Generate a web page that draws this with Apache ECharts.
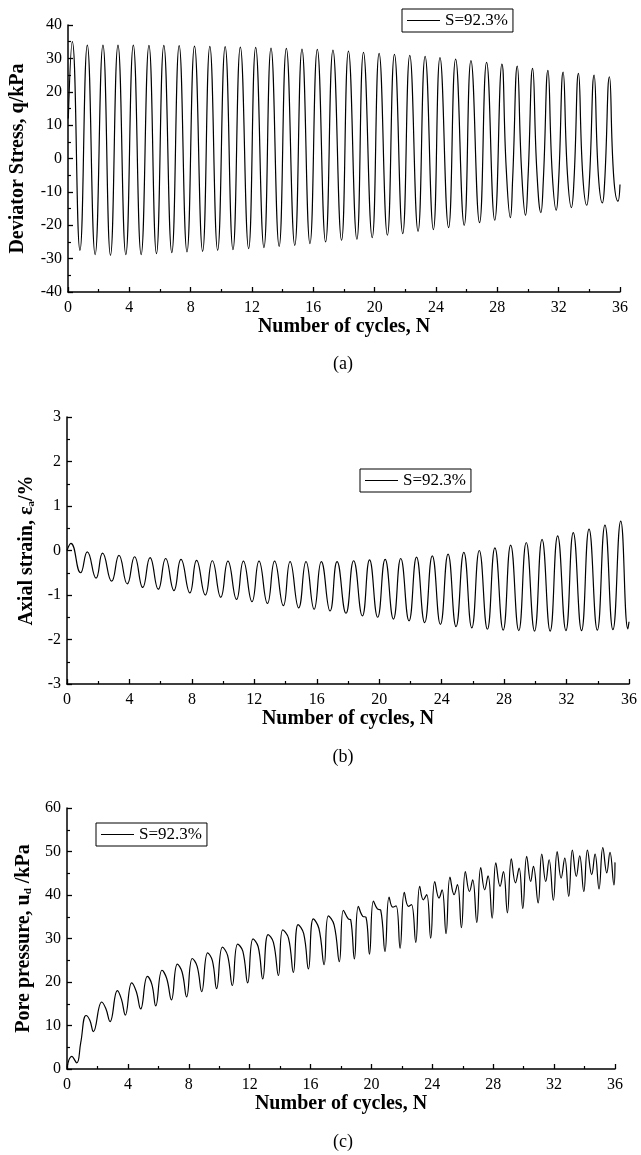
<!DOCTYPE html>
<html><head><meta charset="utf-8">
<script src="https://cdn.jsdelivr.net/npm/echarts@6/dist/echarts.min.js"></script>
<style>html,body{margin:0;padding:0;background:#fff}#c{width:641px;height:1155px}</style>
</head><body><div id="c"></div>
<script>
// ---------------- data ----------------
const seriesName = 'S=92.3%';
const xRange = [0, 36, 4];            // min, max, interval (Number of cycles)
const stressRange = [-40, 40, 10];
const strainRange = [-3, 3, 1];
const poreRange = [0, 60, 10];
const captions = ['(a)', '(b)', '(c)'];

// (a) deviator stress q (kPa): [N, q]
const stressStart = [[0.02, 12]];
const stressPeaks = [[0.28,35.0],[1.26,34.0],[2.28,34.0],[3.26,34.0],[4.26,34.0],[5.28,33.9],[6.25,33.9],[7.25,33.8],[8.25,33.7],[9.25,33.6],[10.25,33.5],[11.24,33.4],[12.24,33.3],[13.24,33.1],[14.24,33.0],[15.26,32.8],[16.26,32.7],[17.28,32.5],[18.29,32.2],[19.27,31.8],[20.29,31.5],[21.29,31.2],[22.29,30.9],[23.29,30.6],[24.26,30.2],[25.28,29.8],[26.28,29.3],[27.3,28.8],[28.3,28.3],[29.3,27.7],[30.3,27.0],[31.3,26.4],[32.29,25.9],[33.29,25.5],[34.31,25.0],[35.31,24.5]];
const stressTroughs = [[0.78,-27.5],[1.77,-28.8],[2.77,-29.0],[3.77,-28.8],[4.77,-28.8],[5.77,-28.5],[6.77,-28.2],[7.76,-28.0],[8.78,-27.8],[9.76,-27.5],[10.76,-27.3],[11.78,-27.0],[12.78,-26.7],[13.77,-26.3],[14.79,-26.0],[15.78,-25.5],[16.8,-25.0],[17.84,-24.5],[18.84,-24.2],[19.84,-23.7],[20.83,-23.0],[21.83,-22.5],[22.83,-21.8],[23.83,-21.3],[24.82,-20.7],[25.84,-20.0],[26.84,-19.2],[27.83,-18.5],[28.85,-17.7],[29.84,-17.0],[30.84,-16.2],[31.84,-15.5],[32.83,-14.7],[33.83,-14.0],[34.85,-13.3],[35.87,-12.8]];
const stressKinks = [[28.58,-3.0],[29.0,-6.0],[29.58,-3.5],[30.0,-6.0],[30.58,-4.0],[31.0,-6.5],[31.58,-4.5],[32.0,-6.5],[32.57,-4.5],[33.0,-6.5],[33.57,-5.0],[34.0,-7.0],[34.59,-5.0],[35.0,-7.0],[35.59,-5.5]];
const stressEnd = [[36.0,-7.8]];

// (b) axial strain (%): [N, strain]
const strainStart = [[0.0,0.0]];
const strainPeaks = [[0.25,0.16],[1.30,-0.03],[2.28,-0.06],[3.33,-0.11],[4.33,-0.14],[5.32,-0.16],[6.32,-0.18],[7.30,-0.20],[8.30,-0.22],[9.31,-0.23],[10.31,-0.24],[11.30,-0.24],[12.30,-0.24],[13.30,-0.24],[14.29,-0.25],[15.31,-0.25],[16.29,-0.25],[17.30,-0.25],[18.36,-0.23],[19.38,-0.21],[20.38,-0.20],[21.38,-0.18],[22.39,-0.15],[23.40,-0.12],[24.41,-0.08],[25.42,-0.04],[26.41,0.0],[27.41,0.06],[28.42,0.12],[29.42,0.18],[30.43,0.25],[31.43,0.33],[32.43,0.40],[33.44,0.48],[34.46,0.57],[35.47,0.66]];
const strainTroughs = [[0.87,-0.50],[1.86,-0.62],[2.86,-0.69],[3.86,-0.75],[4.85,-0.83],[5.85,-0.87],[6.85,-0.90],[7.87,-0.95],[8.86,-1.00],[9.85,-1.05],[10.86,-1.10],[11.85,-1.15],[12.84,-1.19],[13.86,-1.24],[14.84,-1.29],[15.83,-1.32],[16.85,-1.36],[17.87,-1.41],[18.92,-1.47],[19.90,-1.50],[20.91,-1.54],[21.91,-1.58],[22.91,-1.62],[23.92,-1.66],[24.92,-1.71],[25.93,-1.74],[26.93,-1.77],[27.94,-1.79],[28.94,-1.80],[29.95,-1.81],[30.95,-1.81],[31.96,-1.80],[32.96,-1.80],[33.97,-1.79],[34.97,-1.78],[35.93,-1.76]];
const strainEnd = [[36.0,-1.6]];

// (c) pore pressure u_d (kPa): [N, u]
const porePoints = [[0.0,0.3],[0.31,2.9],[0.64,1.4],[0.9,6.0],[1.25,12.3],[1.5,11.2],[1.73,8.6],
[2.28,15.4],[2.55,13.9],[2.83,10.9],[3.31,18.0],[3.58,16.0],[3.83,12.4],
[4.25,19.8],[4.55,17.8],[4.84,13.8],[5.28,21.3],[5.58,19.4],[5.83,14.5],
[6.24,22.7],[6.55,20.8],[6.86,15.9],[7.25,24.1],[7.56,22.3],[7.86,16.6],
[8.23,25.4],[8.55,23.6],[8.85,17.8],[9.24,26.7],[9.55,24.9],[9.83,18.5],
[10.21,28.0],[10.55,26.1],[10.86,19.2],[11.21,28.7],[11.55,27.1],[11.87,19.8],
[12.22,29.9],[12.56,28.1],[12.86,20.7],[13.21,30.9],[13.56,29.1],[13.89,21.5],
[14.17,32.0],[14.55,30.1],[14.87,22.2],[15.18,33.2],[15.55,31.1],[15.86,23.0],
[16.18,34.5],[16.55,32.3],[16.89,24.0],[17.17,35.2],[17.55,33.1],[17.89,24.7],
[18.16,36.5],[18.48,34.5],[18.64,34.3],[18.88,25.3],[19.14,37.4],[19.43,35.1],[19.64,34.9],[19.87,26.4],
[20.13,38.6],[20.39,36.8],[20.61,36.5],[20.89,27.0],[21.16,39.5],[21.40,37.2],[21.62,37.5],[21.88,27.8],
[22.16,40.6],[22.43,37.4],[22.63,37.8],[22.91,29.1],[23.17,42.0],[23.41,38.9],[23.63,40.1],[23.89,30.1],
[24.16,43.1],[24.44,39.3],[24.64,41.2],[24.90,31.1],[25.16,44.1],[25.43,40.1],[25.65,42.4],[25.91,32.5],
[26.17,45.4],[26.44,40.8],[26.65,43.5],[26.92,33.7],[27.18,46.3],[27.44,41.2],[27.66,44.4],[27.93,34.7],
[28.17,47.4],[28.45,42.0],[28.67,45.4],[28.93,35.9],[29.19,48.3],[29.46,42.8],[29.70,46.2],[29.94,36.9],
[30.20,48.9],[30.46,43.1],[30.64,46.6],[30.95,38.2],[31.19,49.4],[31.45,43.1],[31.67,48.1],[31.95,38.8],
[32.20,50.0],[32.46,43.9],[32.70,48.5],[32.96,39.7],[33.20,50.3],[33.46,44.3],[33.68,49.0],[33.95,40.8],
[34.19,50.3],[34.47,44.7],[34.69,49.4],[34.95,41.4],[35.20,50.9],[35.46,45.1],[35.67,49.8],[35.93,42.3],[36.0,47.5]];

// ---------------- chart ----------------
const F = 'Liberation Serif';
function merge(...lists) { return [].concat(...lists).sort((a, b) => a[0] - b[0]); }
const stressData = merge(stressStart, stressPeaks, stressTroughs, stressKinks, stressEnd);
const strainData = merge(strainStart, strainPeaks, strainTroughs, strainEnd);

const grids = [
  { left: 67, top: 25, width: 553, height: 267 },
  { left: 67, top: 417, width: 562, height: 267 },
  { left: 67, top: 808, width: 548, height: 261 }
];
const axisCommon = {
  type: 'value',
  axisLine: { show: true, onZero: false, lineStyle: { color: '#000', width: 1.5 } },
  axisTick: { show: true, inside: true, length: 5, lineStyle: { color: '#000', width: 1.3 } },
  minorTick: { show: true, splitNumber: 2, length: 3, lineStyle: { color: '#000', width: 1.2 } },
  axisLabel: { fontFamily: F, fontSize: 16, color: '#000' },
  splitLine: { show: false }
};
const nameStyle = { fontFamily: F, fontWeight: 'bold', fontSize: 20, color: '#000',
  rich: { sub: { fontFamily: F, fontWeight: 'bold', fontSize: 11, color: '#000', verticalAlign: 'bottom' } } };

const xAxes = [0, 1, 2].map(i => Object.assign({}, axisCommon, {
  gridIndex: i, min: xRange[0], max: xRange[1], interval: xRange[2],
  name: 'Number of cycles, N', nameLocation: 'middle', nameGap: 25, nameTextStyle: nameStyle,
  axisLabel: Object.assign({}, axisCommon.axisLabel, { margin: 8 })
}));
const yDefs = [
  { r: stressRange, name: 'Deviator Stress, q/kPa', gap: 40 },
  { r: strainRange, name: 'Axial strain, ε{sub|a}/%', gap: 30 },
  { r: poreRange, name: 'Pore pressure, u{sub|d} /kPa', gap: 33 }
];
const yAxes = yDefs.map((d, i) => Object.assign({}, axisCommon, {
  gridIndex: i, min: d.r[0], max: d.r[1], interval: d.r[2],
  name: d.name, nameLocation: 'middle', nameRotate: 90, nameGap: d.gap, nameTextStyle: nameStyle,
  axisLabel: Object.assign({}, axisCommon.axisLabel, { margin: 6 })
}));

const legendCommon = {
  data: [{ name: seriesName, icon: 'rect' }], selectedMode: false, orient: 'horizontal',
  itemWidth: 33, itemHeight: 1.2, itemGap: 0, padding: [3, 5, 3, 5],
  borderColor: '#000', borderWidth: 1, borderRadius: 0, backgroundColor: '#fff',
  itemStyle: { color: '#000', borderWidth: 0 },
  textStyle: { fontFamily: F, fontSize: 17, color: '#000', lineHeight: 17 }
};
const legendPos = [{ left: 402, top: 9 }, { left: 360, top: 469 }, { left: 96, top: 823 }];

const mkSeries = (i, data, smooth) => ({
  type: 'line', name: seriesName, xAxisIndex: i, yAxisIndex: i, data: data,
  symbol: 'none', showSymbol: false, smooth: smooth,
  lineStyle: { color: '#000', width: 1.2 }, itemStyle: { color: '#000' }
});

const captionY = [364, 757, 1142];
const chart = echarts.init(document.getElementById('c'), null, { renderer: 'canvas' });
chart.setOption({
  animation: false,
  backgroundColor: '#fff',
  grid: grids,
  xAxis: xAxes,
  yAxis: yAxes,
  legend: legendPos.map(p => Object.assign({}, legendCommon, p)),
  series: [mkSeries(0, stressData, 0.5), mkSeries(1, strainData, 0.5), mkSeries(2, porePoints, 0.45)],
  graphic: captions.map((t, i) => ({
    type: 'text', x: 343, y: captionY[i],
    style: { text: t, fontFamily: F, fontSize: 18, fill: '#000', align: 'center', verticalAlign: 'middle' }
  }))
});
</script></body></html>
